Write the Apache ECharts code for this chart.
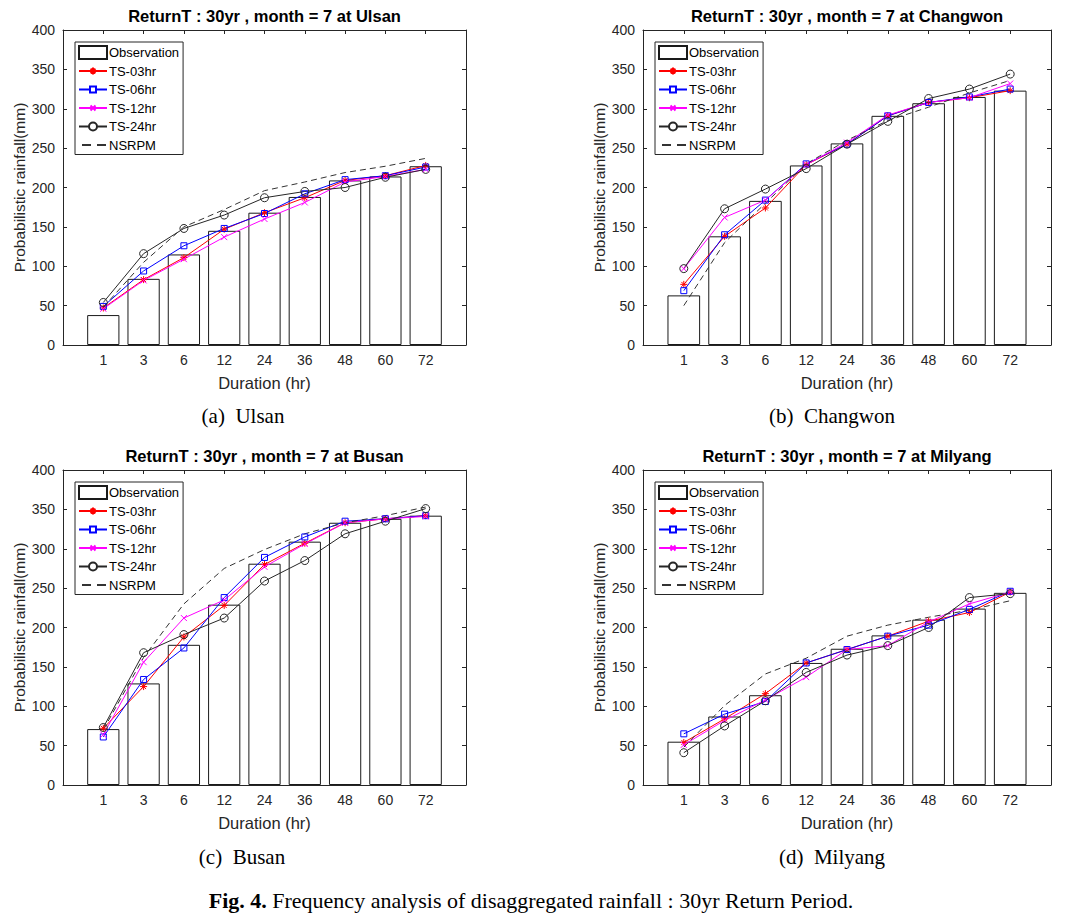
<!DOCTYPE html>
<html><head><meta charset="utf-8">
<script src="https://cdn.jsdelivr.net/npm/echarts@6/dist/echarts.min.js"></script>
<style>html,body{margin:0;padding:0;background:#fff}#c{width:1071px;height:916px}</style>
</head><body><div id="c"></div>
<script>
// ---------- data ----------
const durations = ['1', '3', '6', '12', '24', '36', '48', '60', '72'];
const yTickMin = 0, yTickMax = 400, yTickStep = 50;
const seriesNames = ['Observation', 'TS-03hr', 'TS-06hr', 'TS-12hr', 'TS-24hr', 'NSRPM'];
const stations = ['Ulsan', 'Changwon', 'Busan', 'Milyang'];
const captions = ['(a)  Ulsan', '(b)  Changwon', '(c)  Busan', '(d)  Milyang'];

const ulsanObs   = [38, 84, 115, 145, 168, 188, 209, 214, 227];
const ulsanTS03  = [47, 83, 111, 147, 168, 187, 209, 215, 228];
const ulsanTS06  = [49, 94, 126, 148, 167, 192, 210, 215, 226];
const ulsanTS12  = [46, 82, 109, 137, 160, 181, 207, 214, 223];
const ulsanTS24  = [54, 116, 148, 165, 187, 195, 200, 213, 223];
const ulsanNSRPM = [48, 105, 150, 172, 196, 207, 219, 227, 237];

const changwonObs   = [63, 138, 183, 228, 256, 291, 307, 315, 323];
const changwonTS03  = [77, 138, 174, 229, 255, 291, 308, 314, 323];
const changwonTS06  = [69, 140, 184, 230, 255, 291, 308, 315, 325];
const changwonTS12  = [97, 162, 184, 229, 257, 292, 308, 314, 332];
const changwonTS24  = [97, 173, 198, 224, 255, 284, 313, 325, 344];
const changwonNSRPM = [50, 130, 180, 230, 260, 285, 302, 320, 336];

const busanObs   = [71, 129, 178, 229, 281, 309, 333, 338, 342];
const busanTS03  = [72, 125, 188, 228, 280, 307, 333, 338, 342];
const busanTS06  = [61, 134, 174, 238, 289, 315, 335, 338, 342];
const busanTS12  = [64, 156, 212, 235, 277, 306, 333, 338, 341];
const busanTS24  = [73, 168, 191, 212, 259, 285, 319, 335, 351];
const busanNSRPM = [70, 162, 230, 275, 299, 319, 333, 342, 353];

const milyangObs   = [55, 87, 114, 155, 173, 190, 210, 224, 244];
const milyangTS03  = [54, 84, 116, 155, 172, 189, 208, 219, 245];
const milyangTS06  = [65, 90, 106, 155, 172, 189, 203, 223, 246];
const milyangTS12  = [51, 82, 108, 137, 172, 177, 207, 230, 245];
const milyangTS24  = [41, 75, 107, 143, 165, 177, 200, 238, 243];
const milyangNSRPM = [48, 101, 141, 161, 189, 203, 213, 222, 234];

const panelData = [
  [ulsanObs, ulsanTS03, ulsanTS06, ulsanTS12, ulsanTS24, ulsanNSRPM],
  [changwonObs, changwonTS03, changwonTS06, changwonTS12, changwonTS24, changwonNSRPM],
  [busanObs, busanTS03, busanTS06, busanTS12, busanTS24, busanNSRPM],
  [milyangObs, milyangTS03, milyangTS06, milyangTS12, milyangTS24, milyangNSRPM]
];

// ---------- layout / style ----------
const grids = [
  {left: 63, top: 30, width: 403, height: 315},
  {left: 643, top: 30, width: 408, height: 315},
  {left: 63, top: 470, width: 403, height: 315},
  {left: 643, top: 470, width: 408, height: 315}
];
const captionPos = [[243, 416], [832, 416], [242, 857], [832, 857]];
const axisColor = '#262626';
const sans = '"Liberation Sans", Arial, sans-serif';
const serif = '"Liberation Serif", "DejaVu Serif", serif';

const lineStyles = [
  null,
  {color: '#ff0000', symbol: 'path://M0,-1L0,1M-1,0L1,0M-0.7,-0.7L0.7,0.7M-0.7,0.7L0.7,-0.7', size: 7, dash: 'solid'},
  {color: '#0000ff', symbol: 'rect', size: 6, dash: 'solid'},
  {color: '#ff00ff', symbol: 'path://M-1,-1L1,1M-1,1L1,-1', size: 6, dash: 'solid'},
  {color: '#262626', symbol: 'circle', size: 8, dash: 'solid'},
  {color: '#333333', symbol: 'none', size: 0, dash: [6, 4]}
];
// legend icons drawn in a 28x13 box (corner moves fix the bounds)
const box = 'M0,0M28,13';
const legendIcons = [
  'rect',
  'path://' + box + 'M0,6.5L28,6.5M14,3L14,10M10.5,6.5L17.5,6.5M11.6,4.1L16.4,8.9M11.6,8.9L16.4,4.1',
  'path://' + box + 'M0,6.5L11,6.5M17,6.5L28,6.5M11,3.5L17,3.5L17,9.5L11,9.5Z',
  'path://' + box + 'M0,6.5L28,6.5M11.5,4L16.5,9M11.5,9L16.5,4',
  'path://' + box + 'M0,6.5L10,6.5M18,6.5L28,6.5M18,6.5A4,4,0,1,1,10,6.5A4,4,0,1,1,18,6.5',
  'path://' + box + 'M3,6.5L12,6.5M18,6.5L27,6.5'
];

const option = {
  animation: false,
  backgroundColor: '#fff',
  grid: grids.map(g => ({left: g.left, top: g.top, width: g.width, height: g.height})),
  xAxis: [], yAxis: [], series: [], legend: [], graphic: []
};

grids.forEach((g, p) => {
  const tick = {show: true, inside: true, length: 4, lineStyle: {color: axisColor, width: 1}};
  const line = {show: true, onZero: false, lineStyle: {color: axisColor, width: 1}};
  const xBase = {gridIndex: p, type: 'value', min: 0, max: 10, interval: 1,
    splitLine: {show: false}, axisLine: line, axisTick: tick};
  option.xAxis.push(Object.assign({}, xBase, {
    position: 'bottom',
    axisLabel: {formatter: v => durations[v - 1] || '', color: axisColor, fontSize: 14, fontFamily: sans, margin: 8,
      showMinLabel: true, showMaxLabel: true},
    name: 'Duration (hr)', nameLocation: 'middle', nameGap: 29,
    nameTextStyle: {fontSize: 16.5, fontFamily: sans, color: axisColor}
  }));
  option.xAxis.push(Object.assign({}, xBase, {position: 'top', axisLabel: {show: false}}));
  const yBase = {gridIndex: p, type: 'value', min: yTickMin, max: yTickMax, interval: yTickStep,
    splitLine: {show: false}, axisLine: line, axisTick: tick};
  option.yAxis.push(Object.assign({}, yBase, {
    position: 'left',
    axisLabel: {color: axisColor, fontSize: 14, fontFamily: sans, margin: 8},
    name: 'Probabilistic rainfall(mm)', nameLocation: 'middle', nameGap: 32,
    nameTextStyle: {fontSize: 15.5, fontFamily: sans, color: axisColor}
  }));
  option.yAxis.push(Object.assign({}, yBase, {position: 'right', axisLabel: {show: false}}));

  const data = panelData[p];
  const xi = p * 2, yi = p * 2;
  option.series.push({
    type: 'bar', name: seriesNames[0], xAxisIndex: xi, yAxisIndex: yi,
    barWidth: 0.8 * g.width / 10,
    itemStyle: {color: '#ffffff', borderColor: '#1a1a1a', borderWidth: 1},
    emphasis: {disabled: true},
    data: data[0].map((v, i) => [i + 1, v])
  });
  for (let s = 1; s < 6; s++) {
    const st = lineStyles[s];
    option.series.push({
      type: 'line', name: seriesNames[s], xAxisIndex: xi, yAxisIndex: yi,
      symbol: st.symbol, symbolSize: st.size, symbolKeepAspect: true, showSymbol: st.symbol !== 'none',
      lineStyle: {color: st.color, width: 1, type: st.dash},
      itemStyle: {color: 'rgba(0,0,0,0)', borderColor: st.color, borderWidth: 1},
      emphasis: {disabled: true},
      data: data[s].map((v, i) => [i + 1, v])
    });
  }
  option.legend.push({
    orient: 'vertical', left: g.left + 12, top: g.top + 12,
    data: seriesNames.map((n, i) => ({name: n, icon: legendIcons[i]})),
    selectedMode: false, symbolKeepAspect: true,
    itemWidth: 28, itemHeight: 13, itemGap: 3.5,
    padding: [3, 4, 2, 3], borderColor: axisColor, borderWidth: 1, backgroundColor: '#fff',
    textStyle: {fontSize: 13, fontFamily: sans, color: '#000', padding: [0, 0, 0, -3]}
  });
  option.graphic.push({
    type: 'text', x: g.left + g.width / 2, y: g.top - 14,
    style: {text: 'ReturnT : 30yr , month = 7 at ' + stations[p], align: 'center', verticalAlign: 'middle',
      font: 'bold 16.5px ' + sans, fill: '#000'}
  });
  option.graphic.push({
    type: 'text', x: captionPos[p][0], y: captionPos[p][1],
    style: {text: captions[p], align: 'center', verticalAlign: 'middle', font: '21px ' + serif, fill: '#000'}
  });
});
option.graphic.push({
  type: 'text', x: 531, y: 900,
  style: {text: '{b|Fig. 4.} Frequency analysis of disaggregated rainfall : 30yr Return Period.',
    align: 'center', verticalAlign: 'middle', font: '22px ' + serif, fill: '#000',
    rich: {b: {fontWeight: 'bold', fontSize: 22, fontFamily: serif}}}
});

const chart = echarts.init(document.getElementById('c'), null, {renderer: 'svg'});
chart.setOption(option);
</script></body></html>
